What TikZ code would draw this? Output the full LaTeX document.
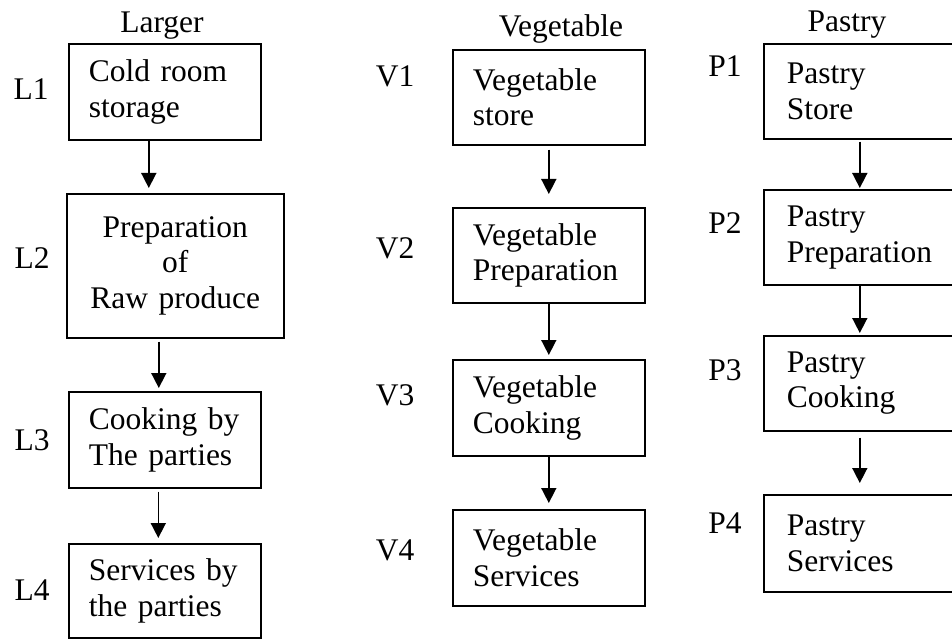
\documentclass[tikz,border=0pt]{standalone}
\usepackage{fontspec}
\setmainfont{Liberation Serif}
\usetikzlibrary{arrows.meta}
\tikzset{
  txt/.style={font=\fontsize{31.5}{35.5}\selectfont, inner sep=0pt},
  box/.style={txt, draw, line width=1.6pt, anchor=north west,
    inner xsep=20pt, inner ysep=0pt, text width=152pt, align=left},
  cbox/.style={box, align=center},
  tag/.style={txt, anchor=base},
  flow/.style={line width=1.6pt, -{Triangle[width=15pt,length=15pt]}}
}
\begin{document}
\begin{tikzpicture}[x=1pt,y=-1pt]
\clip (0,0) rectangle (952,639);
\useasboundingbox (0,0) rectangle (952,639);

% column titles
\node[tag] (tL) at (162,33) {Larger};
\node[tag] (tV) at (561,37) {Vegetable};
\node[tag] (tP) at (847,32) {Pastry};

% Larger line
\node[box, minimum height=96pt]  (L1) at (68,43)  {Cold room\\storage};
\node[cbox, minimum height=144pt, text width=177pt] (L2) at (66,193) {Preparation\\of\\Raw produce};
\node[box, minimum height=96pt]  (L3) at (68,391) {Cooking by\\The parties};
\node[box, minimum height=94pt]  (L4) at (68,543) {Services by\\the parties};

% Vegetable line
\node[box, minimum height=95pt] (V1) at (452,49)  {Vegetable\\store};
\node[box, minimum height=95pt] (V2) at (452,207) {Vegetable\\Preparation};
\node[box, minimum height=96pt] (V3) at (452,359) {Vegetable\\Cooking};
\node[box, minimum height=96pt] (V4) at (452,509) {Vegetable\\Services};

% Pastry line
\node[box, minimum height=95pt, inner xsep=23pt, text width=146pt] (P1) at (763,43)  {Pastry\\Store};
\node[box, minimum height=95pt, inner xsep=23pt, text width=146pt] (P2) at (763,189) {Pastry\\Preparation};
\node[box, minimum height=95pt, inner xsep=23pt, text width=146pt] (P3) at (763,335) {Pastry\\Cooking};
\node[box, minimum height=97pt, inner xsep=23pt, text width=146pt] (P4) at (763,494) {Pastry\\Services};

% step tags
\node[tag] (l1) at (31,100) {L1};
\node[tag] (l2) at (32,268) {L2};
\node[tag] (l3) at (32,450) {L3};
\node[tag] (l4) at (32,600) {L4};
\node[tag] (v1) at (395,87)  {V1};
\node[tag] (v2) at (395,258) {V2};
\node[tag] (v3) at (395,405) {V3};
\node[tag] (v4) at (395,560) {V4};
\node[tag] (p1) at (725,77)  {P1};
\node[tag] (p2) at (725,233) {P2};
\node[tag] (p3) at (725,380) {P3};
\node[tag] (p4) at (725,533) {P4};

% arrows
\draw[flow, shorten >=5pt] ([xshift=-16pt]L1.south) -- ([xshift=-16pt]L1.south |- L2.north);
\draw[flow, shorten <=3pt, shorten >=3pt] ([xshift=-16.5pt]L2.south) -- ([xshift=-16.5pt]L2.south |- L3.north);
\draw[flow, shorten <=3pt, shorten >=5pt] ([xshift=-6.5pt]L3.south) -- ([xshift=-6.5pt]L3.south |- L4.north);

\draw[flow, shorten <=4pt, shorten >=13pt] (V1.south) -- (V2.north);
\draw[flow, shorten >=4pt] (V2.south) -- (V3.north);
\draw[flow, shorten >=6pt] (V3.south) -- (V4.north);

\draw[flow, shorten <=2pt, shorten >=1pt] (P1.south) -- (P2.north);
\draw[flow, shorten >=2pt] (P2.south) -- (P3.north);
\draw[flow, shorten <=6pt, shorten >=11pt] (P3.south) -- (P4.north);
\end{tikzpicture}
\end{document}
